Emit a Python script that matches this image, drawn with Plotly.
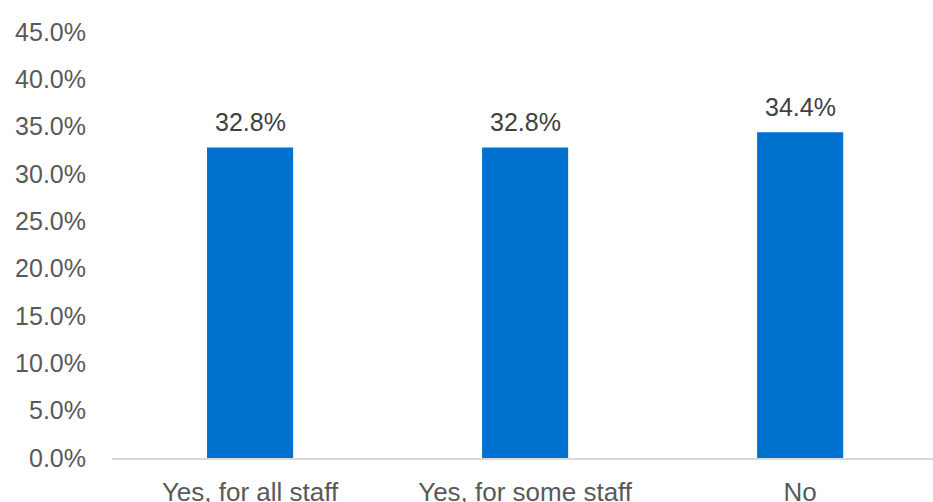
import plotly.graph_objects as go

categories = ["Yes, for all staff", "Yes, for some staff", "No"]
values = [32.8, 32.8, 34.4]
tick_vals = [0, 5, 10, 15, 20, 25, 30, 35, 40, 45]
tick_text = ["0.0%", "5.0%", "10.0%", "15.0%", "20.0%", "25.0%", "30.0%", "35.0%", "40.0%", "45.0%"]

FONT = "Liberation Sans, Arial"

fig = go.Figure()
fig.add_trace(go.Bar(
    x=categories, y=values,
    marker=dict(color="#0071CE", line=dict(width=0)),
    hoverinfo="skip",
))

for c, v in zip(categories, values):
    fig.add_annotation(x=c, y=v, text=f"{v:.1f}%", showarrow=False,
                       yanchor="bottom", yshift=9,
                       font=dict(family=FONT, size=25, color="#404040"))

fig.update_layout(
    width=933, height=502,
    margin=dict(l=112, r=0, t=32, b=44),
    paper_bgcolor="white", plot_bgcolor="white",
    bargap=0.687,
    showlegend=False,
    font=dict(family=FONT, size=25, color="#595959"),
)
fig.update_yaxes(range=[0, 45], tickvals=tick_vals, ticktext=tick_text,
                 showgrid=False, zeroline=False, showline=False, automargin=False,
                 ticks="", ticklabelstandoff=25,
                 tickfont=dict(family=FONT, size=25, color="#595959"))
fig.update_xaxes(range=[-0.502, 2.483], showgrid=False, showline=True, automargin=False,
                 linecolor="#D9D9D9", linewidth=2,
                 ticks="", ticklabelstandoff=10,
                 tickfont=dict(family=FONT, size=26, color="#595959"))

fig.write_html("out.html")
